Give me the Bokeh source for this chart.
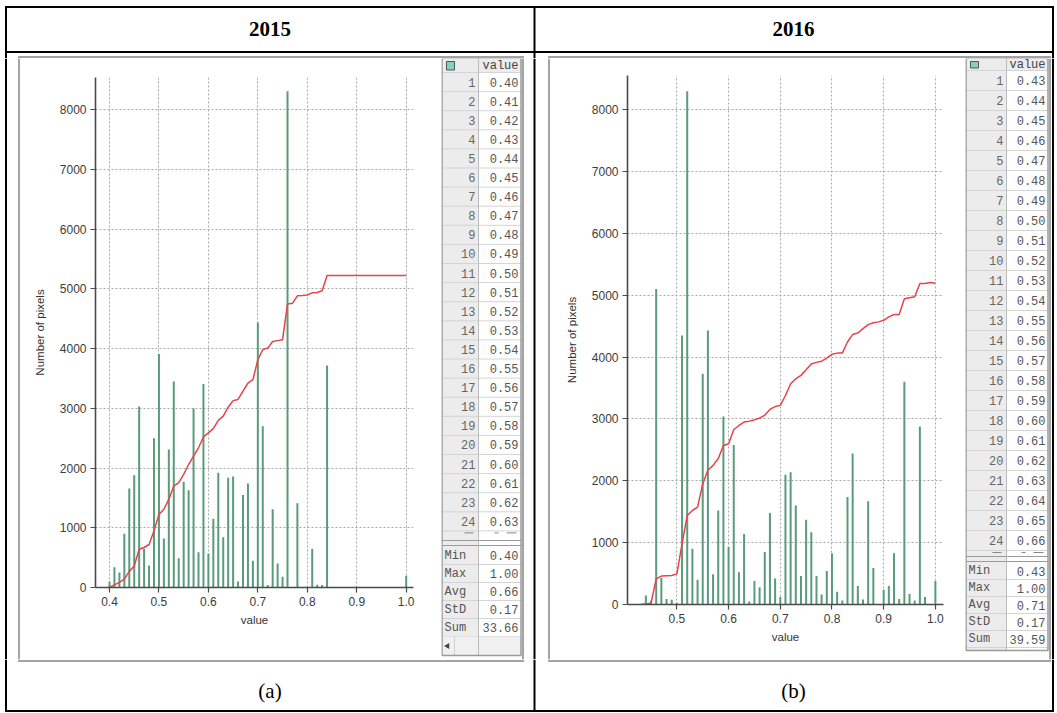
from bokeh.plotting import figure
from bokeh.models import Range1d, PrintfTickFormatter
from bokeh.layouts import row, column
from bokeh.embed import file_html
from bokeh.resources import INLINE
from bokeh.core.properties import value

# ---------------- data ----------------
years = ["2015", "2016"]
captions = ["(a)", "(b)"]

bins_2015 = [0.40, 0.41, 0.42, 0.43, 0.44, 0.45, 0.46, 0.47, 0.48, 0.49,
             0.50, 0.51, 0.52, 0.53, 0.54, 0.55, 0.56, 0.57, 0.58, 0.59,
             0.60, 0.61, 0.62, 0.63, 0.64, 0.65, 0.66, 0.67, 0.68, 0.69,
             0.70, 0.71, 0.72, 0.73, 0.74, 0.75, 0.76, 0.77, 0.78, 0.79,
             0.80, 0.81, 0.82, 0.83, 0.84, 0.85, 0.86, 0.87, 0.88, 0.89,
             0.90, 0.91, 0.92, 0.93, 0.94, 0.95, 0.96, 0.97, 0.98, 0.99, 1.00]
counts_2015 = [100, 340, 250, 900, 1660, 1880, 3030, 650, 370, 2500,
               3910, 820, 2310, 3450, 490, 1770, 1630, 3000, 590, 3410,
               570, 1150, 1920, 840, 1840, 1860, 100, 1550, 1740, 450,
               4440, 2700, 40, 1310, 400, 180, 8310, 0, 1410, 0,
               0, 650, 45, 40, 3720, 0, 0, 0, 0, 0,
               0, 0, 0, 0, 0, 0, 0, 0, 0, 0, 195]
cum_2015 = [0, 45, 85, 140, 270, 360, 640, 670, 720, 950,
            1225, 1310, 1475, 1700, 1755, 1895, 2060, 2200, 2340, 2520,
            2590, 2660, 2800, 2870, 3020, 3130, 3150, 3290, 3425, 3480,
            3815, 3985, 4010, 4120, 4135, 4150, 4750, 4760, 4885, 4890,
            4900, 4935, 4940, 4970, 5225, 5225, 5225, 5225, 5225, 5225,
            5225, 5225, 5225, 5225, 5225, 5225, 5225, 5225, 5225, 5225, 5225]

bins_2016 = [0.43, 0.44, 0.45, 0.46, 0.47, 0.48, 0.49,
             0.50, 0.51, 0.52, 0.53, 0.54, 0.55, 0.56, 0.57, 0.58, 0.59,
             0.60, 0.61, 0.62, 0.63, 0.64, 0.65, 0.66, 0.67, 0.68, 0.69,
             0.70, 0.71, 0.72, 0.73, 0.74, 0.75, 0.76, 0.77, 0.78, 0.79,
             0.80, 0.81, 0.82, 0.83, 0.84, 0.85, 0.86, 0.87, 0.88, 0.89,
             0.90, 0.91, 0.92, 0.93, 0.94, 0.95, 0.96, 0.97, 0.98, 0.99, 1.00]
counts_2016 = [0, 145, 60, 5100, 430, 90, 75,
               30, 4350, 8300, 900, 400, 3730, 4430, 490, 1520, 3040,
               930, 2580, 520, 1140, 50, 380, 280, 850, 1480, 420,
               120, 2100, 2140, 1600, 460, 1370, 1170, 460, 160, 540,
               830, 205, 65, 1740, 2440, 300, 80, 1670, 590, 0,
               240, 300, 830, 90, 3600, 170, 65, 2880, 120, 0, 380]
cum_2016 = [0, 10, 20, 415, 460, 465, 470,
            495, 980, 1440, 1520, 1575, 1950, 2170, 2250, 2360, 2570,
            2600, 2825, 2895, 2950, 2965, 2985, 3015, 3060, 3155, 3200,
            3220, 3380, 3570, 3650, 3705, 3795, 3890, 3915, 3935, 3985,
            4045, 4065, 4065, 4245, 4365, 4390, 4460, 4525, 4555, 4570,
            4595, 4650, 4690, 4690, 4945, 4960, 4975, 5190, 5190, 5205, 5195]

x_ticks_2015 = [0.4, 0.5, 0.6, 0.7, 0.8, 0.9, 1.0]
x_ticks_2016 = [0.5, 0.6, 0.7, 0.8, 0.9, 1.0]
y_ticks = [0, 1000, 2000, 3000, 4000, 5000, 6000, 7000, 8000]

table_index = ["1", "2", "3", "4", "5", "6", "7", "8", "9", "10", "11", "12",
               "13", "14", "15", "16", "17", "18", "19", "20", "21", "22", "23", "24"]
table_values_2015 = ["0.40", "0.41", "0.42", "0.43", "0.44", "0.45", "0.46", "0.47",
                     "0.48", "0.49", "0.50", "0.51", "0.52", "0.53", "0.54", "0.55",
                     "0.56", "0.57", "0.58", "0.59", "0.60", "0.61", "0.62", "0.63"]
table_values_2016 = ["0.43", "0.44", "0.45", "0.46", "0.47", "0.48", "0.49", "0.50",
                     "0.51", "0.52", "0.53", "0.54", "0.55", "0.56", "0.57", "0.58",
                     "0.59", "0.60", "0.61", "0.62", "0.63", "0.64", "0.65", "0.66"]
stat_names = ["Min", "Max", "Avg", "StD", "Sum"]
stats_2015 = ["0.40", "1.00", "0.66", "0.17", "33.66"]
stats_2016 = ["0.43", "1.00", "0.71", "0.17", "39.59"]

# ---------------- styles ----------------
BLACK = "#000000"
PANEL = "#a4a4a4"
BAR = "#5a9b7b"
RED = "#e8424a"
MONO = "Liberation Mono"
SANS = "Liberation Sans"
SERIF = "Liberation Serif"

W, H = 1056, 712
X_LEFT, X_MID, X_RIGHT = 5.5, 534, 1052.5


def canvas(x0, x1, y0, y1):
    p = figure(width=x1 - x0, height=y1 - y0,
               x_range=Range1d(x0, x1), y_range=Range1d(y1, y0),
               x_axis_type=None, y_axis_type=None,
               output_backend="svg", toolbar_location=None, frame_align=False,
               min_border=0, min_border_left=0, min_border_right=0,
               min_border_top=0, min_border_bottom=0)
    p.outline_line_color = None
    p.border_fill_color = "white"
    p.background_fill_color = "white"
    return p


def hline(p, x0, x1, y, color, w):
    p.segment(x0=[x0], y0=[y], x1=[x1], y1=[y], line_color=color, line_width=w)


def vline(p, x, y0, y1, color, w):
    p.segment(x0=[x], y0=[y0], x1=[x], y1=[y1], line_color=color, line_width=w)


def draw_table(p, x0, xm, x1, y_top, head_bot, row_h, idx, vals,
               part_bot, stat_top, stat_h, names, svals, bottom, scroll=False):
    p.quad(left=[x0], right=[xm], top=[y_top], bottom=[bottom],
           fill_color="#ececec", line_color=None)
    p.quad(left=[xm], right=[x1], top=[y_top], bottom=[head_bot],
           fill_color="#ececec", line_color=None)
    p.quad(left=[x0 + 5], right=[x0 + 13], top=[y_top + 3.5], bottom=[head_bot - 2.5],
           fill_color="#86cfc4", line_color="#555555", line_width=1)
    p.text(x=[x1 - 3], y=[(y_top + head_bot) / 2 + 0.5], text=["value"],
           text_font=value(MONO), text_font_size="12px", text_color="#444444",
           text_align="right", text_baseline="middle")
    hline(p, x0, x1, head_bot, "#b8b8b8", 1)
    n = len(idx)
    centers = [head_bot + (i + 0.5) * row_h for i in range(n)]
    for i in range(n + 1):
        hline(p, x0, x1, head_bot + i * row_h, "#d4d4d4", 1)
    p.text(x=[xm - 3] * n, y=centers, text=idx, text_font=value(MONO),
           text_font_size="12px", text_color="#666666",
           text_align="right", text_baseline="middle")
    p.text(x=[x1 - 3] * n, y=centers, text=vals, text_font=value(MONO),
           text_font_size="12px", text_color="#555555",
           text_align="right", text_baseline="middle")
    rb = head_bot + n * row_h
    p.segment(x0=[xm - 14, x1 - 27, x1 - 15], y0=[rb + 2] * 3,
              x1=[xm - 5, x1 - 23, x1 - 5], y1=[rb + 2] * 3,
              line_color="#888888", line_width=1)
    hline(p, x0, x1, part_bot, "#9a9a9a", 1)
    hline(p, x0, x1, stat_top - 1, "#9a9a9a", 1)
    m = len(names)
    sc = [stat_top + (i + 0.5) * stat_h for i in range(m)]
    for i in range(1, m + 1):
        hline(p, x0, x1, stat_top + i * stat_h, "#d4d4d4", 1)
    p.text(x=[x0 + 3] * m, y=sc, text=names, text_font=value(MONO),
           text_font_size="12px", text_color="#555555",
           text_align="left", text_baseline="middle")
    p.text(x=[x1 - 3] * m, y=sc, text=svals, text_font=value(MONO),
           text_font_size="12px", text_color="#555555",
           text_align="right", text_baseline="middle")
    if scroll:
        s_top = stat_top + m * stat_h
        p.quad(left=[x0], right=[x1], top=[s_top], bottom=[bottom],
               fill_color="#f0f0f0", line_color=None)
        vline(p, x0 + 13, s_top, bottom, "#d0d0d0", 1)
        p.scatter(x=[x0 + 6], y=[(s_top + bottom) / 2], marker="triangle",
                  size=6, angle=1.5708, fill_color="#444444", line_color=None)
    vline(p, xm, y_top, bottom, "#bcbcbc", 1)
    p.quad(left=[x0 + 0.5], right=[x1 - 0.5], top=[y_top], bottom=[bottom],
           fill_color=None, line_color="#9a9a9a", line_width=1.5)


def hist_fig(width, xr, yr, mbl, mbr, mbt, mbb, xticks, bins, counts, cum):
    p = figure(width=width, height=601, x_range=Range1d(*xr), y_range=Range1d(*yr),
               output_backend="svg", toolbar_location=None, frame_align=False,
               min_border_left=mbl, min_border_right=mbr,
               min_border_top=mbt, min_border_bottom=mbb,
               x_axis_label="value", y_axis_label="Number of pixels")
    p.outline_line_color = None
    p.border_fill_color = "white"
    p.background_fill_color = "white"
    p.xaxis.ticker = xticks
    p.yaxis.ticker = y_ticks
    p.xaxis.formatter = PrintfTickFormatter(format="%.1f")
    p.grid.grid_line_color = "#a8a8a8"
    p.grid.grid_line_dash = "2 2"
    p.grid.grid_line_width = 1
    for ax in p.axis:
        ax.axis_line_color = "#4a4a4a"
        ax.axis_line_width = 1.6
        ax.major_tick_line_color = "#4a4a4a"
        ax.major_tick_line_width = 1.2
        ax.major_tick_out = 5
        ax.major_tick_in = 0
        ax.minor_tick_line_color = None
        ax.major_label_text_font = SANS
        ax.major_label_text_font_size = "12px"
        ax.major_label_text_color = "#3c3c3c"
        ax.major_label_standoff = 4
        ax.axis_label_text_font = SANS
        ax.axis_label_text_font_size = "11.5px"
        ax.axis_label_text_font_style = "normal"
        ax.axis_label_text_color = "#333333"
    p.yaxis.axis_label_standoff = 11
    p.xaxis.axis_label_standoff = 5
    p.segment(x0=bins, y0=[0] * len(bins), x1=bins, y1=counts,
              line_color=BAR, line_width=2)
    p.line(bins, cum, line_color=RED, line_width=1.5)
    return p


# ---------------- header ----------------
hdr = canvas(0, W, 0, 58)
hline(hdr, 4.5, 1053.5, 6.5, BLACK, 2)
hline(hdr, 4.5, 1053.5, 51.5, BLACK, 2)
for xx in [X_LEFT, X_MID, X_RIGHT]:
    vline(hdr, xx, 5.5, 58, BLACK, 2)
hdr.text(x=[269.5, 793], y=[28, 28], text=years, text_font=value(SERIF),
         text_font_style="bold", text_font_size="21px", text_color="black",
         text_align="center", text_baseline="middle")
hline(hdr, 17.5, 523.5, 56.5, PANEL, 2)
hline(hdr, 547.5, 1050.5, 56.5, PANEL, 2)
for xx in [18.5, 522.5, 548.5, 1049.5]:
    vline(hdr, xx, 55.5, 58, PANEL, 2)

# ---------------- band with panels ----------------
f0 = canvas(0, 20, 58, 659)
vline(f0, X_LEFT, 58, 659, BLACK, 2)
vline(f0, 18.5, 58, 659, PANEL, 2)

hist_l = hist_fig(421, (0.3717, 1.0148), (0, 8542), 75, 28, 19, 72,
                  x_ticks_2015, bins_2015, counts_2015, cum_2015)

tab_l = canvas(441, 550, 58, 659)
draw_table(tab_l, 441, 478, 521, 57.5, 72, 19.1, table_index, table_values_2015,
           540, 546, 18, stat_names, stats_2015, 655, scroll=True)
vline(tab_l, 522.5, 58, 659, PANEL, 2)
vline(tab_l, X_MID, 58, 659, BLACK, 2)
vline(tab_l, 548.5, 58, 659, PANEL, 2)

hist_r = hist_fig(415, (0.4045, 1.0157), (0, 8554), 77, 22, 17, 55,
                  x_ticks_2016, bins_2016, counts_2016, cum_2016)

tab_r = canvas(965, W, 58, 659)
draw_table(tab_r, 965, 1006, 1048, 57.5, 70, 20, table_index, table_values_2016,
           556, 562, 17, stat_names, stats_2016, 650, scroll=False)
vline(tab_r, 1049.5, 58, 659, PANEL, 2)
vline(tab_r, X_RIGHT, 58, 659, BLACK, 2)

# ---------------- captions ----------------
cap = canvas(0, W, 659, H)
for xx in [X_LEFT, X_MID, X_RIGHT]:
    vline(cap, xx, 659, 711.5, BLACK, 2)
hline(cap, 17.5, 523.5, 660.5, PANEL, 2)
hline(cap, 547.5, 1050.5, 660.5, PANEL, 2)
for xx in [18.5, 522.5, 548.5, 1049.5]:
    vline(cap, xx, 659, 661, PANEL, 2)
hline(cap, 4.5, 1053.5, 710.5, BLACK, 2)
cap.text(x=[269.5, 793], y=[690, 690], text=captions, text_font=value(SERIF),
         text_font_size="21px", text_color="black",
         text_align="center", text_baseline="middle")

layout = column(hdr, row(f0, hist_l, tab_l, hist_r, tab_r), cap)
open("out.html", "w").write(file_html(layout, INLINE))
